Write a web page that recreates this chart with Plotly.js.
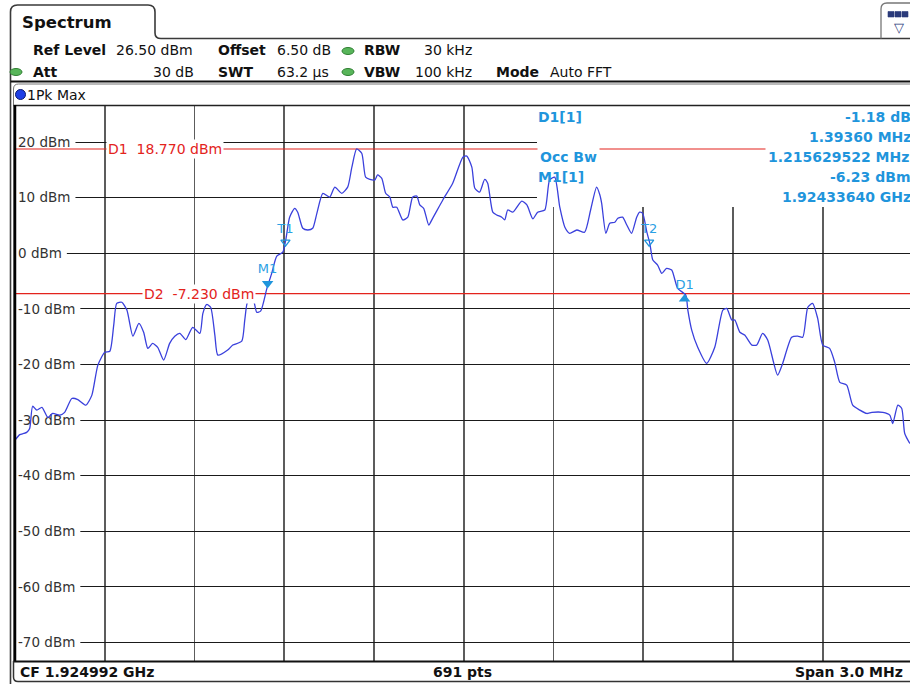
<!DOCTYPE html>
<html><head><meta charset="utf-8">
<script src="https://cdn.plot.ly/plotly-3.0.1.min.js"></script>
<style>html,body{margin:0;padding:0;background:#fff;overflow:hidden}#chart{width:910px;height:684px}</style>
</head><body><div id="chart"></div>
<script>
// ---------- data ----------
const freqOffsetMHz = [
-1.500,-1.484,-1.471,-1.461,-1.451,-1.441,-1.427,-1.410,-1.390,-1.374,
-1.350,-1.334,-1.310,-1.290,-1.263,-1.243,-1.223,-1.200,-1.183,-1.170,
-1.160,-1.143,-1.126,-1.106,-1.086,-1.070,-1.056,-1.040,-1.023,-1.003,
-0.983,-0.966,-0.949,-0.929,-0.906,-0.882,-0.872,-0.859,-0.846,-0.832,
-0.822,-0.789,-0.772,-0.742,-0.732,-0.722,-0.705,-0.692,-0.679,-0.658,
-0.642,-0.625,-0.605,-0.595,-0.582,-0.565,-0.555,-0.538,-0.521,-0.505,
-0.491,-0.471,-0.448,-0.431,-0.408,-0.388,-0.374,-0.358,-0.341,-0.328,
-0.314,-0.297,-0.288,-0.274,-0.261,-0.247,-0.237,-0.224,-0.204,-0.187,
-0.171,-0.157,-0.147,-0.134,-0.117,-0.104,-0.070,-0.037,-0.003,0.010,
0.027,0.037,0.053,0.070,0.080,0.097,0.110,0.127,0.137,0.147,
0.164,0.194,0.211,0.231,0.247,0.271,0.287,0.304,0.321,0.338,
0.354,0.378,0.404,0.424,0.444,0.455,0.461,0.475,0.488,0.505,
0.515,0.531,0.545,0.561,0.578,0.588,0.598,0.612,0.622,0.632,
0.648,0.662,0.678,0.695,0.715,0.742,0.749,0.762,0.782,0.812,
0.839,0.866,0.879,0.896,0.906,0.923,0.939,0.963,0.979,0.999,
1.016,1.049,1.066,1.096,1.116,1.133,1.150,1.166,1.183,1.200,
1.223,1.240,1.257,1.280,1.300,1.324,1.347,1.364,1.401,1.424,
1.434,1.451,1.464,1.474,1.491];
const levelDbm = [
-33.6,-32.6,-32.4,-32.2,-31.5,-27.5,-28.2,-27.7,-29.5,-28.8,
-29.1,-28.6,-26.1,-26.3,-27.3,-25.5,-20.1,-17.8,-17.6,-12.9,
-9.0,-8.8,-10.2,-14.9,-12.6,-14.2,-17.1,-16.2,-16.9,-19.2,
-16.2,-14.9,-14.4,-15.5,-13.3,-14.4,-10.8,-9.2,-9.7,-14.7,
-18.3,-17.4,-16.5,-15.8,-12.0,-8.6,-8.1,-10.6,-10.4,-6.3,
-3.6,-0.5,0.2,2.4,6.5,8.1,7.4,4.5,4.2,4.5,
7.2,10.8,10.1,11.9,10.8,11.9,15.5,18.77,18.0,13.7,
13.3,13.2,14.1,13.5,10.8,10.1,8.3,8.3,6.0,6.5,
10.1,10.3,8.7,8.1,5.1,6.3,9.6,12.6,17.3,17.5,
15.5,11.7,11.0,13.3,12.6,7.4,6.9,6.5,6.0,7.8,
7.4,9.4,8.7,6.2,7.4,7.8,13.2,13.7,8.3,4.7,
3.6,4.2,3.8,7.8,11.9,10.5,9.0,3.6,5.4,5.6,
6.3,6.5,5.1,3.6,6.5,7.4,7.2,3.8,1.8,-1.2,
-2.1,-3.6,-2.7,-3.0,-6.3,-7.5,-10.2,-13.8,-16.9,-19.8,
-16.9,-10.2,-9.9,-12.0,-12.0,-14.2,-14.7,-16.5,-16.5,-14.4,
-15.6,-21.9,-19.8,-15.1,-14.9,-15.1,-9.7,-9.0,-11.7,-16.5,
-17.1,-19.6,-23.2,-23.7,-27.3,-28.2,-28.8,-28.6,-28.6,-29.1,
-30.6,-27.3,-27.9,-32.4,-34.2];

const yTickVals = [20,10,0,-10,-20,-30,-40,-50,-60,-70];
const yTickText = yTickVals.map(v => v + ' dBm');

const displayLineNames  = ['D1','D2'];
const displayLineLevels = [18.77, -7.23];

const markerNames  = ['M1','T1','T2','D1'];
const markerFreqs  = [-0.6556, -0.596, 0.6196, 0.738];
const markerLevels = [-6.23, 1.2, 1.2, -7.41];

const infoLabels = ['D1[1]','','Occ Bw','M1[1]',''];
const infoValues = ['-1.18 dB','1.39360 MHz','1.215629522 MHz','-6.23 dBm','1.92433640 GHz'];

const headerRow1 = [['<b>Ref Level</b>',32,'left'],['26.50 dBm',115,'left'],['<b>Offset</b>',217,'left'],['6.50 dB',276,'left'],['<b>RBW</b>',363,'left'],['30 kHz',473,'right']];
const headerRow2 = [['<b>Att</b>',32,'left'],['30 dB',195,'right'],['<b>SWT</b>',217,'left'],['63.2 µs',276,'left'],['<b>VBW</b>',363,'left'],['100 kHz',473,'right'],['<b>Mode</b>',495,'left'],['Auto FFT',549,'left']];
const footerTexts = [['<b>CF 1.924992 GHz</b>',19,'left'],['<b>691 pts</b>',462,'center'],['<b>Span 3.0 MHz</b>',904,'right']];

// ---------- geometry ----------
const L=15, T=106, W=895, H=556, FW=910, FH=684;
const xRange=[-1.5, 1.4916];
const yRange=[-73.5, 26.5];
const pxPerMHz = W/(xRange[1]-xRange[0]);
const pxPerDb = H/(yRange[1]-yRange[0]);
const px = x => (x-L)/W;
const py = y => (T+H-y)/H;
const P = (x,y) => px(x)+','+py(y);
const dataX = x => xRange[0] + (x-L)/pxPerMHz;
const dataY = y => yRange[1] - (y-T)/pxPerDb;

const FONT = 'DejaVu Sans';
const RED = '#e3231c';
const MBLUE = '#1f95dc';
const TICKFS = 13.5;

const ctx = document.createElement('canvas').getContext('2d');
ctx.font = TICKFS + 'px "' + FONT + '"';
const measure = t => ctx.measureText(t).width;

const shapes = [];
shapes.push({type:'rect', xref:'x', yref:'y', x0:dataX(537), x1:dataX(930), y0:dataY(207), y1:dataY(95),
  fillcolor:'#fff', line:{width:0}, layer:'between'});
yTickText.forEach((t,i)=>{
  shapes.push({type:'rect', xref:'x', yref:'y', xsizemode:'pixel', xanchor:xRange[0], x0:0, x1:measure(t)+8,
    ysizemode:'pixel', yanchor:yTickVals[i], y0:-7, y1:7, fillcolor:'#fff', line:{width:0}, layer:'between'});
});
displayLineLevels.forEach(v=>{
  shapes.push({type:'line', xref:'x', yref:'y', x0:xRange[0], x1:xRange[1]+0.1, y0:v, y1:v,
    line:{color:RED, width:1.2}, layer:'between'});
});
const pathShape = (d, color, width) => ({type:'path', xref:'paper', yref:'paper', path:d, line:{color, width}, layer:'above'});
const seg = (x0,y0,x1,y1,color,width) => ({type:'line', xref:'paper', yref:'paper', x0:px(x0), y0:py(y0), x1:px(x1), y1:py(y1), line:{color, width}, layer:'above'});
shapes.push(pathShape(`M ${P(10.5,684)} L ${P(10.5,12)} Q ${P(10.5,5)} ${P(17.5,5)} L ${P(148,5)} Q ${P(155,5)} ${P(155,12)} L ${P(155,33)} Q ${P(155,38.5)} ${P(161,38.5)} L ${P(915,38.5)}`, '#3a3a3a', 1.6));
shapes.push(pathShape(`M ${P(881,38.5)} L ${P(881,9)} Q ${P(881,3)} ${P(887,3)} L ${P(915,3)}`, '#777', 1.3));
shapes.push(seg(10.5,81.5,915,81.5,'#111',2));
shapes.push(pathShape(`M ${P(13.5,662)} L ${P(13.5,89)} Q ${P(13.5,84)} ${P(18.5,84)} L ${P(915,84)}`, '#777', 1));
shapes.push(seg(13.5,105.5,915,105.5,'#222',1.5));
shapes.push(seg(15,105,15,662,'#000',2.5));
shapes.push(seg(13.5,661.5,915,661.5,'#111',2));
shapes.push(pathShape(`M ${P(13.5,661)} L ${P(13.5,677)} Q ${P(13.5,681.5)} ${P(18,681.5)} L ${P(915,681.5)}`, '#333', 1.5));
const pill = (cx,cy) => ({type:'circle', xref:'paper', yref:'paper', x0:px(cx-6), x1:px(cx+6), y0:py(cy+3.5), y1:py(cy-3.5),
  fillcolor:'#58b55a', line:{color:'#2f7f32', width:1}, layer:'above'});
shapes.push(pill(348,51), pill(348,72), pill(16,72));
shapes.push({type:'circle', xref:'paper', yref:'paper', x0:px(15.5), x1:px(25.5), y0:py(99.5), y1:py(89.5),
  fillcolor:'#1f3fe6', line:{color:'#0b1a6e', width:1}, layer:'above'});
[888,895,902].forEach(x0=>shapes.push({type:'rect', xref:'paper', yref:'paper', x0:px(x0), x1:px(x0+6), y0:py(17), y1:py(11.5),
  fillcolor:'#2a3a7a', line:{color:'#2a3a7a', width:0.6}, layer:'above'}));

// ---------- annotations ----------
const annotations = [];
const ann = (text, x, y, anchor, size, color, extra) => Object.assign({text, xref:'paper', yref:'paper', x:px(x), y:py(y),
  xanchor:anchor, yanchor:'middle', showarrow:false, font:{family:FONT, size, color}, borderpad:0}, extra||{});
annotations.push(ann('<b>Spectrum</b>', 21, 22, 'left', 16.5, '#111'));
headerRow1.forEach(([t,x,a])=>annotations.push(ann(t, x, 50, a, 14, '#111')));
headerRow2.forEach(([t,x,a])=>annotations.push(ann(t, x, 71.5, a, 14, '#111')));
annotations.push(ann('1Pk Max', 26, 94.5, 'left', 14, '#111'));
annotations.push(ann('▽', 899, 27, 'center', 13, '#2a3a7a'));
footerTexts.forEach(([t,x,a])=>annotations.push(ann(t, x, 672, a, 14, '#111')));
const infoRows = [117,137,157,177,197];
infoLabels.forEach((t,i)=>{ if(t) annotations.push(ann('<b>'+t+'</b>', 537, infoRows[i], 'left', 14, MBLUE,
  t==='Occ Bw'?{bgcolor:'#fff', borderpad:2}:{})); });
infoValues.forEach((t,i)=>annotations.push(ann('<b>'+t+'</b>', 912, infoRows[i], 'right', 14, MBLUE,
  i===2?{bgcolor:'#fff', borderpad:2}:{})));
const dlLabelPx = [106, 142];
displayLineNames.forEach((n,i)=>{
  annotations.push({text: n+'\u00a0 '+displayLineLevels[i].toFixed(3)+' dBm', xref:'x', yref:'y',
    x:dataX(dlLabelPx[i]), y:displayLineLevels[i], xanchor:'left', yanchor:'middle', showarrow:false,
    bgcolor:'#fff', borderpad:1, font:{family:FONT, size:14, color:RED}});
});

// ---------- traces ----------
const shiftDb = 4.5/pxPerDb;
const traces = [{
  x: freqOffsetMHz, y: levelDbm, type:'scatter', mode:'lines',
  line:{color:'#3a40dc', width:1.3, shape:'spline', smoothing:0.6}, hoverinfo:'skip'
}];
markerNames.forEach((n,i)=>{
  const isT = n[0]==='T', isD = n[0]==='D';
  traces.push({x:[markerFreqs[i]], y:[markerLevels[i] + (isD ? -shiftDb : shiftDb)], type:'scatter', mode:'markers+text',
    text:[n], textposition:'top center', textfont:{family:FONT, size:13, color:'#2aa0e4'},
    marker:{symbol: isT?'triangle-down-open':(isD?'triangle-up':'triangle-down'), size:isT?8:10,
      color:MBLUE, line:{color:MBLUE, width:isT?1.3:0}}, hoverinfo:'skip', cliponaxis:false});
});

const layout = {
  width:FW, height:FH, margin:{l:L, r:FW-L-W, t:T, b:FH-T-H, pad:0},
  paper_bgcolor:'#fff', plot_bgcolor:'#fff', showlegend:false,
  xaxis:{range:xRange, tick0:-1.5, dtick:0.3, showgrid:true, gridcolor:'#5c5c5c', gridwidth:1.6,
    zeroline:false, showticklabels:false, ticks:'', showline:false, fixedrange:true},
  yaxis:{range:yRange, tickmode:'array', tickvals:yTickVals, ticktext:yTickText, ticklabelposition:'inside',
    showgrid:true, gridcolor:'#1a1a1a', gridwidth:1.1, zeroline:false, ticks:'', showline:false,
    layer:'below traces', tickfont:{family:FONT, size:TICKFS, color:'#333'}, fixedrange:true},
  shapes, annotations
};
Plotly.newPlot('chart', traces, layout, {displayModeBar:false, staticPlot:true});
</script></body></html>
